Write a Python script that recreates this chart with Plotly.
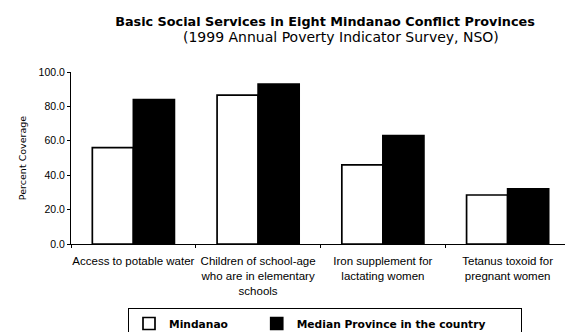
import plotly.graph_objects as go

categories = [
    "Access to potable water",
    "Children of school-age<br>who are in elementary<br>schools",
    "Iron supplement for<br>lactating women",
    "Tetanus toxoid for<br>pregnant women",
]
mindanao = [56.0, 86.5, 46.0, 28.5]
median_province = [84.0, 93.0, 63.0, 32.0]
y_ticks = [0, 20, 40, 60, 80, 100]
y_tick_labels = ["0.0", "20.0", "40.0", "60.0", "80.0", "100.0"]
series_names = ["Mindanao", "Median Province in the country"]

FONT = "Liberation Sans, Arial, sans-serif"
WIDE = "DejaVu Sans, sans-serif"
NB = "\u00a0"

fig = go.Figure()
fig.add_trace(go.Bar(
    name="<b>" + series_names[0] + "</b>" + NB * 7, x=categories, y=mindanao,
    marker=dict(color="white", line=dict(color="black", width=1.7)),
))
fig.add_trace(go.Bar(
    name="<b>" + series_names[1] + "</b>" + NB * 9, x=categories, y=median_province,
    marker=dict(color="black", line=dict(color="black", width=1.7)),
))

fig.update_layout(
    width=565, height=332,
    margin=dict(l=71, r=0, t=72, b=88, autoexpand=False),
    paper_bgcolor="white", plot_bgcolor="white",
    font=dict(family=FONT, size=10, color="black"),
    barmode="group", bargap=0.342, bargroupgap=0,
    title=dict(
        text="<b>Basic Social Services in Eight Mindanao Conflict Provinces</b>",
        font=dict(family=WIDE, size=12.8, color="black"),
        x=325 / 565, xref="container", xanchor="center",
        y=1 - 22 / 332, yref="container", yanchor="middle",
    ),
    showlegend=True,
    legend=dict(
        orientation="h", x=(128 - 71) / 494, xanchor="left",
        y=(244 - 308) / 172, yanchor="top",
        bordercolor="black", borderwidth=1, bgcolor="white",
        font=dict(family=WIDE, size=10.7, color="black"),
        traceorder="normal",
    ),
    annotations=[dict(
        text="(1999 Annual Poverty Indicator Survey, NSO)",
        xref="paper", yref="paper", x=(341 - 71) / 494, y=(244 - 37) / 172,
        xanchor="center", yanchor="middle", showarrow=False,
        font=dict(family=WIDE, size=14, color="black"),
    )],
)
fig.update_xaxes(
    range=[-0.5, 3.46], automargin=False, tickangle=0,
    showline=True, linecolor="black", linewidth=1,
    ticks="outside", tickson="boundaries", ticklen=3, tickcolor="black",
    showgrid=False, tickfont=dict(size=11.5), ticklabelstandoff=6,
)
fig.update_yaxes(
    range=[0, 100], tickvals=y_ticks, ticktext=y_tick_labels, automargin=False,
    showline=True, linecolor="black", linewidth=1,
    ticks="outside", ticklen=3, tickcolor="black",
    showgrid=False, zeroline=False, tickfont=dict(size=10.5),
    title=dict(text="Percent Coverage", font=dict(family=WIDE, size=9.5), standoff=10),
)

fig.write_html("out.html")
